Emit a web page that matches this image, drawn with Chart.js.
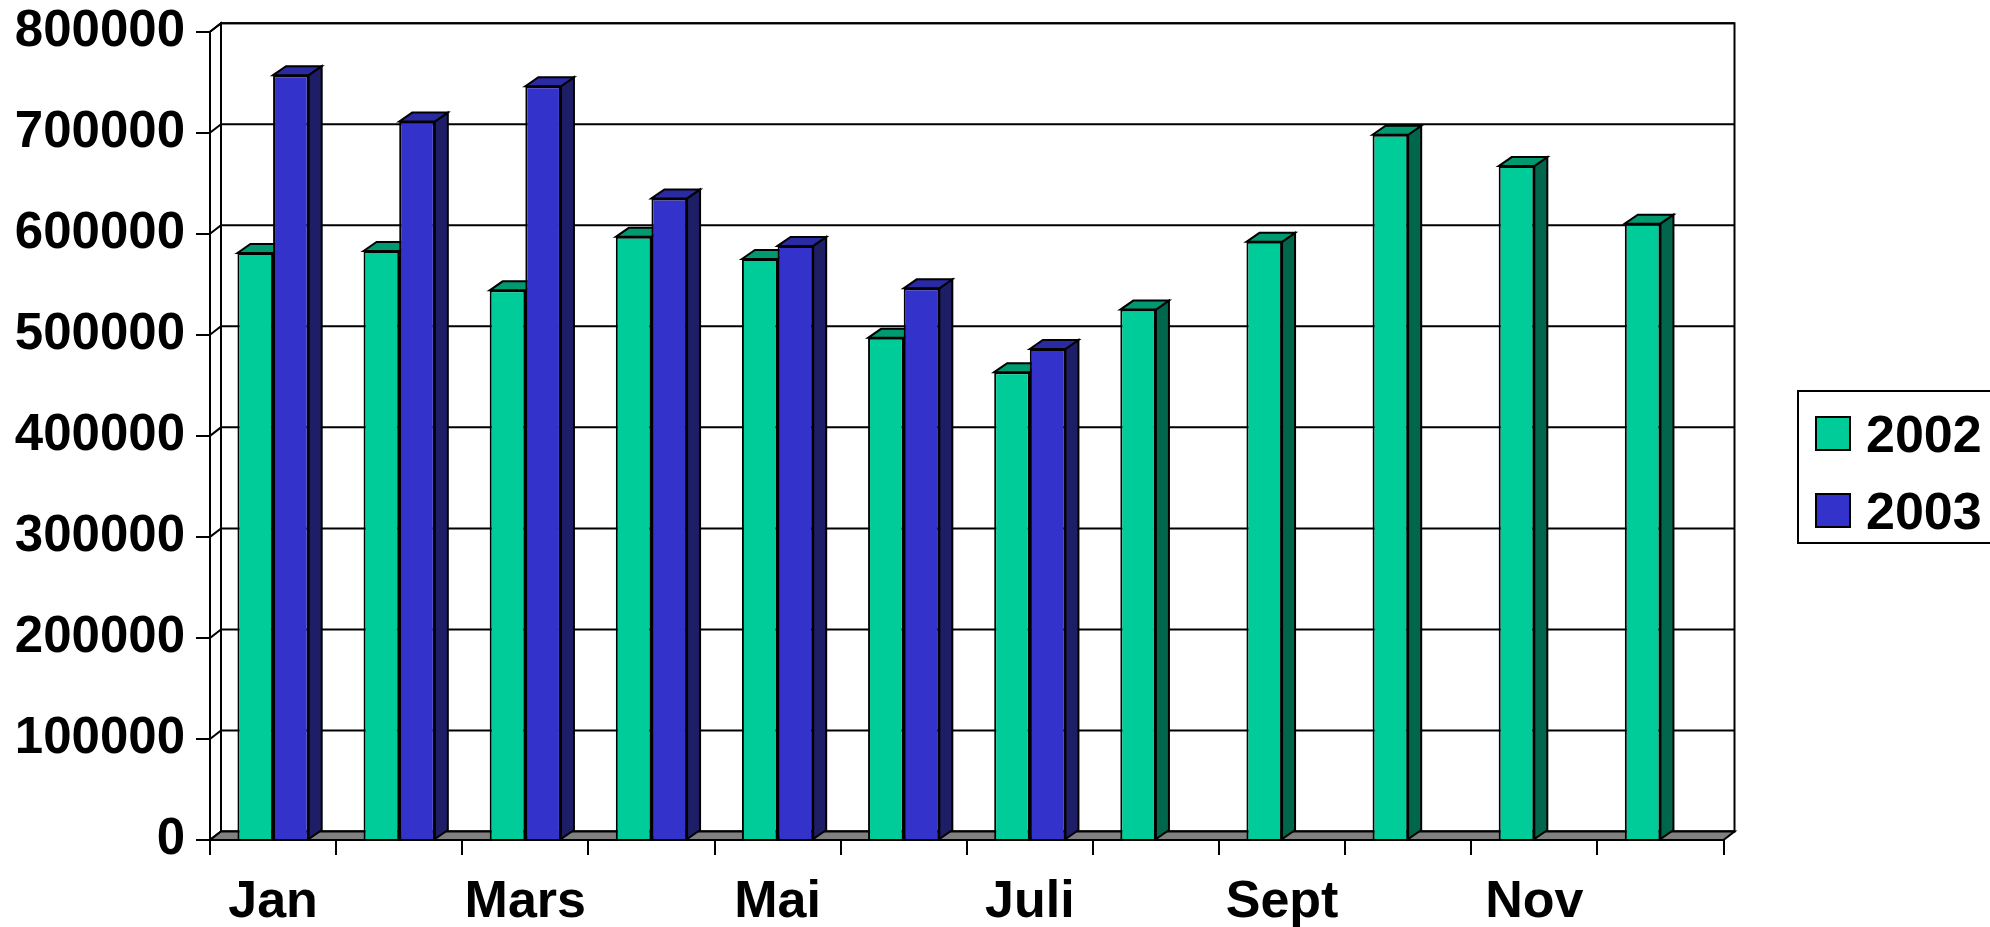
<!DOCTYPE html>
<html>
<head>
<meta charset="utf-8">
<script src="https://cdn.jsdelivr.net/npm/chart.js@4"></script>
<style>
  html, body { margin: 0; padding: 0; background: #fff; }
  #wrap { width: 1990px; height: 927px; }
</style>
</head>
<body>
<div id="wrap"><canvas id="salesChart"></canvas></div>
<script>
// Månedlige tall, lest av bildet
const months = ['Jan', 'Feb', 'Mars', 'April', 'Mai', 'Juni', 'Juli', 'Aug', 'Sept', 'Okt', 'Nov', 'Des'];
const values2002 = [581000, 583000, 544000, 597000, 575000, 497000, 463000, 525000, 592000, 698000, 667000, 610000];
const values2003 = [757000, 711000, 746000, 635000, 588000, 546000, 486000, null, null, null, null, null];
const seriesNames = ['2002', '2003'];

// farger: front, topp, side
const faces = [
    { front: '#00CC99', top: '#009970', side: '#00664C' },
    { front: '#3333CC', top: '#2A2AA3', side: '#1E1E66' }
];

const FONT = 'Liberation Sans, Arial, sans-serif';
const LINE = 2;
const WALL_DX = 11, WALL_DY = 8.5;   // dybde for vegger/gulv
const BAR_DX = 13, BAR_DY = 9;       // dybde for søylene

function poly(ctx, pts, fill) {
    ctx.beginPath();
    ctx.moveTo(pts[0][0], pts[0][1]);
    for (let i = 1; i < pts.length; i++) ctx.lineTo(pts[i][0], pts[i][1]);
    ctx.closePath();
    if (fill) { ctx.fillStyle = fill; ctx.fill(); }
    ctx.stroke();
}

// tegner bakvegg, gulv og 3D-sidene på søylene
const fake3d = {
    id: 'fake3d',
    beforeDatasetsDraw(chart) {
        const { ctx, chartArea: a, scales: { y } } = chart;
        ctx.save();
        ctx.strokeStyle = '#000';
        ctx.lineWidth = LINE;
        ctx.lineJoin = 'miter';

        // bakvegg
        poly(ctx, [[a.left + WALL_DX, a.top - WALL_DY], [a.right + WALL_DX, a.top - WALL_DY],
                   [a.right + WALL_DX, a.bottom - WALL_DY], [a.left + WALL_DX, a.bottom - WALL_DY]], '#fff');
        // venstre vegg
        poly(ctx, [[a.left, a.top], [a.left + WALL_DX, a.top - WALL_DY],
                   [a.left + WALL_DX, a.bottom - WALL_DY], [a.left, a.bottom]], '#fff');

        // rutenett på veggene
        y.ticks.forEach(t => {
            const yy = y.getPixelForValue(t.value);
            ctx.beginPath();
            ctx.moveTo(a.left, yy);
            ctx.lineTo(a.left + WALL_DX, yy - WALL_DY);
            ctx.lineTo(a.right + WALL_DX, yy - WALL_DY);
            ctx.stroke();
        });

        // gulv
        poly(ctx, [[a.left, a.bottom], [a.right, a.bottom],
                   [a.right + WALL_DX, a.bottom - WALL_DY], [a.left + WALL_DX, a.bottom - WALL_DY]], '#808080');

        // topp og side på hver søyle
        chart.data.datasets.forEach((ds, di) => {
            const meta = chart.getDatasetMeta(di);
            meta.data.forEach((el, i) => {
                if (ds.data[i] == null) return;
                const p = el.getProps(['x', 'y', 'width', 'base'], true);
                const l = p.x - p.width / 2, r = p.x + p.width / 2;
                poly(ctx, [[r, p.y], [r + BAR_DX, p.y - BAR_DY], [r + BAR_DX, p.base - BAR_DY], [r, p.base]], faces[di].side);
                poly(ctx, [[l, p.y], [l + BAR_DX, p.y - BAR_DY], [r + BAR_DX, p.y - BAR_DY], [r, p.y]], faces[di].top);
            });
        });
        ctx.restore();
    },
    afterDraw(chart) {
        // forklaring med ramme
        const { ctx } = chart;
        ctx.save();
        ctx.strokeStyle = '#000';
        ctx.lineWidth = LINE;
        ctx.fillStyle = '#fff';
        ctx.fillRect(1798, 391, 200, 152);
        ctx.strokeRect(1798, 391, 200, 152);
        ctx.font = 'bold 52px ' + FONT;
        ctx.textBaseline = 'alphabetic';
        ctx.textAlign = 'left';
        const rows = [417, 494];
        chart.data.datasets.forEach((ds, di) => {
            ctx.fillStyle = ds.backgroundColor;
            ctx.fillRect(1816, rows[di], 34, 33);
            ctx.strokeRect(1816, rows[di], 34, 33);
            ctx.fillStyle = '#000';
            ctx.fillText(ds.label, 1866, rows[di] + 35);
        });
        ctx.restore();
    }
};

const ctx = document.getElementById('salesChart').getContext('2d');
const salesChart = new Chart(ctx, {
    type: 'bar',
    data: {
        labels: months,
        datasets: [
            {
                label: seriesNames[0],
                data: values2002,
                backgroundColor: faces[0].front,
                borderColor: '#000',
                borderWidth: LINE
            },
            {
                label: seriesNames[1],
                data: values2003,
                backgroundColor: faces[1].front,
                borderColor: '#000',
                borderWidth: LINE
            }
        ]
    },
    options: {
        responsive: true,
        maintainAspectRatio: false,
        animation: false,
        categoryPercentage: 0.565,
        barPercentage: 1.0,
        layout: { padding: { top: 31.7, right: 266.5, left: 0, bottom: 0 } },
        plugins: {
            legend: { display: false },
            tooltip: { enabled: false }
        },
        scales: {
            x: {
                offset: true,
                grid: { offset: true, drawOnChartArea: false, drawTicks: true, tickLength: 15, color: '#000', lineWidth: LINE },
                border: { color: '#000', width: LINE },
                ticks: {
                    autoSkip: false,
                    maxRotation: 0,
                    padding: 16,
                    color: '#000',
                    font: { family: FONT, size: 52, weight: 'bold' },
                    callback: (v, i) => i % 2 === 0 ? months[i] : ''
                },
                afterFit: s => { s.height = 87; s.paddingLeft = 0; s.paddingRight = 0; }
            },
            y: {
                min: 0,
                max: 800000,
                grid: { drawOnChartArea: false, drawTicks: true, tickLength: 14, color: '#000', lineWidth: LINE },
                border: { color: '#000', width: LINE },
                ticks: {
                    stepSize: 100000,
                    padding: 11,
                    color: '#000',
                    font: { family: FONT, size: 51, weight: 'bold' },
                    callback: v => String(v)
                },
                afterFit: s => { s.width = 210; s.paddingTop = 0; s.paddingBottom = 0; }
            }
        }
    },
    plugins: [fake3d]
});
</script>
</body>
</html>
